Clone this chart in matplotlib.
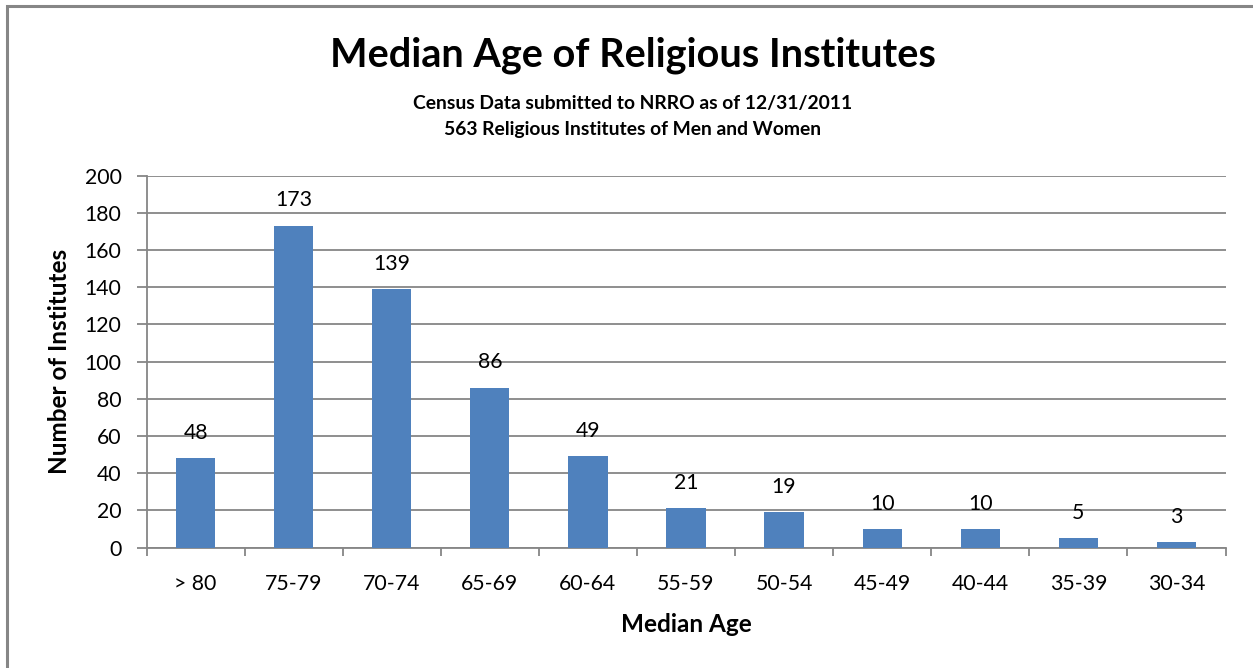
import matplotlib
matplotlib.use("Agg")
import matplotlib.pyplot as plt
from matplotlib.patches import Rectangle

categories = ["> 80", "75-79", "70-74", "65-69", "60-64", "55-59", "50-54", "45-49", "40-44", "35-39", "30-34"]
values = [48, 173, 139, 86, 49, 21, 19, 10, 10, 5, 3]
yticks = [0, 20, 40, 60, 80, 100, 120, 140, 160, 180, 200]

title = "Median Age of Religious Institutes"
subtitle1 = "Census Data submitted to NRRO as of 12/31/2011"
subtitle2 = "563 Religious Institutes of Men and Women"

plt.rcParams['font.family'] = ['Lato', 'DejaVu Sans']
W, H = 1253, 668
fig = plt.figure(figsize=(W / 100, H / 100), dpi=100)
grey = "#868686"

# outer chart border (right/bottom cut off in reference)
fig.patches.append(Rectangle((6.5 / W, -0.1), 1.5, 1 - 5.5 / H + 0.1, transform=fig.transFigure,
                             fill=False, edgecolor=grey, linewidth=2.2))

ax = fig.add_axes([146.5 / W, 1 - 547.5 / H, (1225.5 - 146.5) / W, (547.5 - 175.5) / H])
x = list(range(len(categories)))
ax.bar(x, values, width=0.4, color="#4F81BD", zorder=3)
ax.set_xlim(-0.5, len(categories) - 0.5)
ax.set_ylim(0, 200)
ax.set_yticks(yticks)
ax.set_yticklabels([str(t) for t in yticks], fontsize=15.3)
ax.set_xticks(x)
ax.set_xticklabels(categories, fontsize=15.3)
ax.tick_params(axis='x', length=0, pad=19)
ax.set_xticks([i - 0.5 for i in range(len(categories) + 1)], minor=True)
ax.tick_params(axis='x', which='minor', length=6, color=grey, width=1.3, direction='out')
ax.tick_params(axis='y', length=7, color=grey, width=1.3, direction='out', pad=11)
ax.yaxis.grid(True, color=grey, linewidth=1.3, zorder=0)
for s in ['top', 'right']:
    ax.spines[s].set_visible(False)
for s in ['left', 'bottom']:
    ax.spines[s].set_color(grey)
    ax.spines[s].set_linewidth(1.3)
ax.set_axisbelow(True)

for xi, v in zip(x, values):
    ax.annotate(str(v), (xi, v), xytext=(0, 11), textcoords='offset points',
                ha='center', va='bottom', fontsize=15.3)

ax.set_xlabel("Median Age", fontsize=17.5, fontweight='bold', labelpad=14)
ax.set_ylabel("Number of Institutes", fontsize=17.5, fontweight='bold', labelpad=10)

fig.text(633 / W, 1 - 55 / H, title, ha='center', va='center', fontsize=28.5, fontweight='bold')
fig.text(633 / W, 1 - 103 / H, subtitle1, ha='center', va='center', fontsize=13.9, fontweight='bold')
fig.text(633 / W, 1 - 130 / H, subtitle2, ha='center', va='center', fontsize=13.9, fontweight='bold')

fig.savefig("out.png", dpi=100)
